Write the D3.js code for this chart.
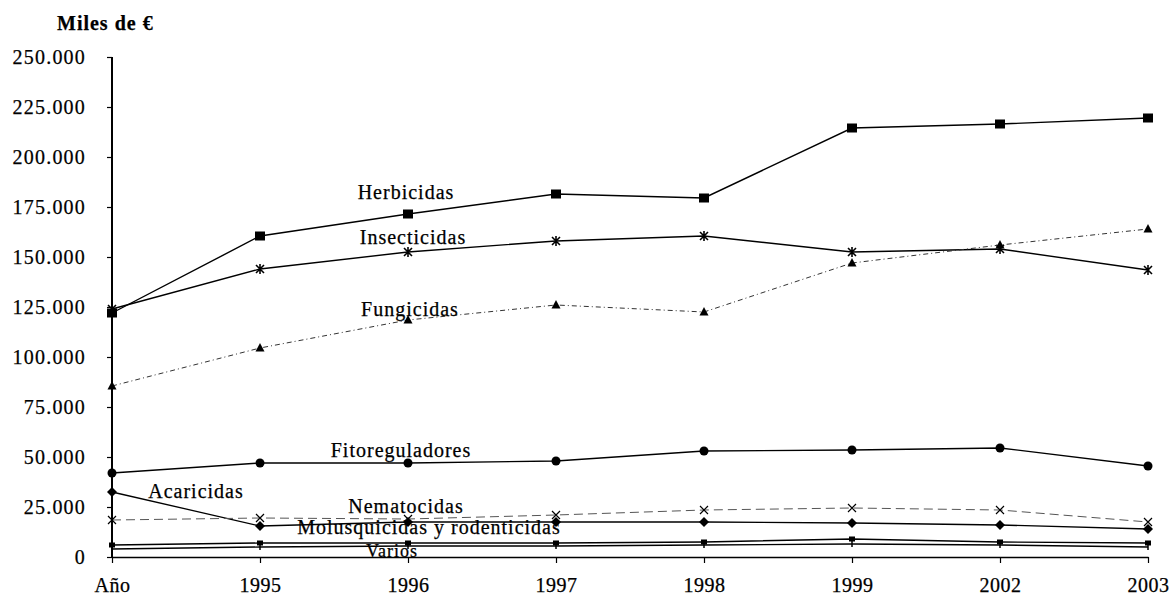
<!DOCTYPE html>
<html><head><meta charset="utf-8">
<script src="https://cdn.jsdelivr.net/npm/d3@7"></script>
<style>
body{margin:0;background:#fff;}
text{font-family:"Liberation Serif","Times New Roman",serif;fill:#000;stroke:#000;stroke-width:0.25px;}
</style></head>
<body><svg id="c" width="1172" height="597"></svg>
<script>
const categories = ["Año","1995","1996","1997","1998","1999","2002","2003"];
const yTicks = [0,25000,50000,75000,100000,125000,150000,175000,200000,225000,250000];
const yTickLabels = ["0","25.000","50.000","75.000","100.000","125.000","150.000","175.000","200.000","225.000","250.000"];
const herbicidas = [122000,160500,171500,181500,179500,214500,216500,219500];
const insecticidas = [124000,144000,152500,158000,160500,152500,154000,143500];
const fungicidas = [85500,104500,118500,126000,122500,147000,156000,164000];
const fitoreguladores = [42000,47000,47000,48000,53000,53500,54500,45500];
const acaricidas = [32500,15500,17500,17500,17500,17000,16000,14000];
const nematocidas = [18500,19500,19000,21000,23500,24500,23500,17500];
const molusquicidas = [6000,7000,7000,7000,7500,9000,7500,7000];
const varios = [4000,5000,5500,5500,6000,6500,6000,5000];
const seriesNames = ["Herbicidas","Insecticidas","Fungicidas","Fitoreguladores","Acaricidas","Nematocidas","Molusquicidas y rodenticidas","Varios"];

const svg = d3.select("#c");
const x = d3.scalePoint().domain(categories).range([112,1148]);
const y = d3.scaleLinear().domain([0,250000]).range([557,57]);

const series = [
  {name:seriesNames[0], v:herbicidas, marker:"square", dash:null, w:1.4, col:"#000", lx:406, ly:199},
  {name:seriesNames[1], v:insecticidas, marker:"asterisk", dash:null, w:1.4, col:"#000", lx:413, ly:244},
  {name:seriesNames[2], v:fungicidas, marker:"triangle", dash:"5,3,1,3", w:1, col:"#333", lx:410, ly:316},
  {name:seriesNames[3], v:fitoreguladores, marker:"circle", dash:null, w:1.3, col:"#000", lx:401, ly:457},
  {name:seriesNames[4], v:acaricidas, marker:"diamond", dash:null, w:1.3, col:"#000", lx:196, ly:498},
  {name:seriesNames[5], v:nematocidas, marker:"cross", dash:"9,5", w:1, col:"#555", lx:406, ly:513},
  {name:seriesNames[6], v:molusquicidas, marker:"smallsquare", dash:null, w:1.4, col:"#000", lx:429, ly:534},
  {name:seriesNames[7], v:varios, marker:"bar", dash:null, w:1.4, col:"#000", lx:392, ly:557}
];

// axes
const yAxis = d3.axisLeft(y).tickValues(yTicks).tickSize(5).tickFormat((d,i)=>yTickLabels[i]);
const gy = svg.append("g").attr("transform","translate(112,0)").call(yAxis);
gy.select(".domain").attr("stroke","#000").attr("stroke-width",2).attr("d","M0,57V557");
gy.selectAll(".tick line").attr("stroke","#000").attr("stroke-width",1.2);
gy.selectAll(".tick text").attr("x",-26).attr("dy","0.32em").style("font-size","20px").style("letter-spacing","1.2px").attr("text-anchor","end");

const xAxis = d3.axisBottom(x).tickSize(6).tickSizeOuter(0);
const gx = svg.append("g").attr("transform","translate(0,557)").call(xAxis);
gx.select(".domain").attr("stroke","#000").attr("stroke-width",1.3);
gx.selectAll(".tick line").attr("stroke","#000").attr("stroke-width",1.2);
gx.selectAll(".tick text").attr("y",35).attr("dy",0).style("font-size","20px").style("letter-spacing","0.5px");

// title
svg.append("text").attr("x",57).attr("y",30).style("font-size","20px").style("font-weight","bold").style("letter-spacing","1px").text("Miles de €");

const line = d3.line().x((d,i)=>x(categories[i])).y(d=>y(d));
const g = svg.append("g");
series.forEach(s=>{
  g.append("path").datum(s.v).attr("d",line).attr("fill","none").attr("stroke",s.col)
   .attr("stroke-width",s.w).attr("stroke-dasharray",s.dash);
  const pts = g.append("g").selectAll("g").data(s.v).join("g")
    .attr("transform",(d,i)=>`translate(${x(categories[i])},${y(d)})`);
  if(s.marker==="square") pts.append("rect").attr("x",-5).attr("y",-4.5).attr("width",10).attr("height",9).attr("fill","#000");
  if(s.marker==="smallsquare") pts.append("rect").attr("x",-3).attr("y",-2.5).attr("width",6).attr("height",5).attr("fill","#000");
  if(s.marker==="circle") pts.append("circle").attr("r",4.5).attr("fill","#000");
  if(s.marker==="diamond") pts.append("path").attr("d","M0,-5L5,0L0,5L-5,0Z").attr("fill","#000");
  if(s.marker==="triangle") pts.append("path").attr("d","M0,-5L4.5,3.5L-4.5,3.5Z").attr("fill","#000");
  if(s.marker==="asterisk") pts.append("path").attr("d","M-4,-4L4,4M-4,4L4,-4M0,-5V5").attr("stroke","#000").attr("stroke-width",1.6);
  if(s.marker==="cross") pts.append("path").attr("d","M-4,-4L4,4M-4,4L4,-4").attr("stroke","#000").attr("stroke-width",1.2);
  if(s.marker==="bar") pts.append("path").attr("d","M0,-3V3").attr("stroke","#000").attr("stroke-width",1.5);
  svg.append("text").attr("x",s.lx).attr("y",s.ly).attr("text-anchor","middle")
    .style("font-size",s.name==="Varios"?"18px":"20px").style("letter-spacing","1px").text(s.name);
});
</script></body></html>
